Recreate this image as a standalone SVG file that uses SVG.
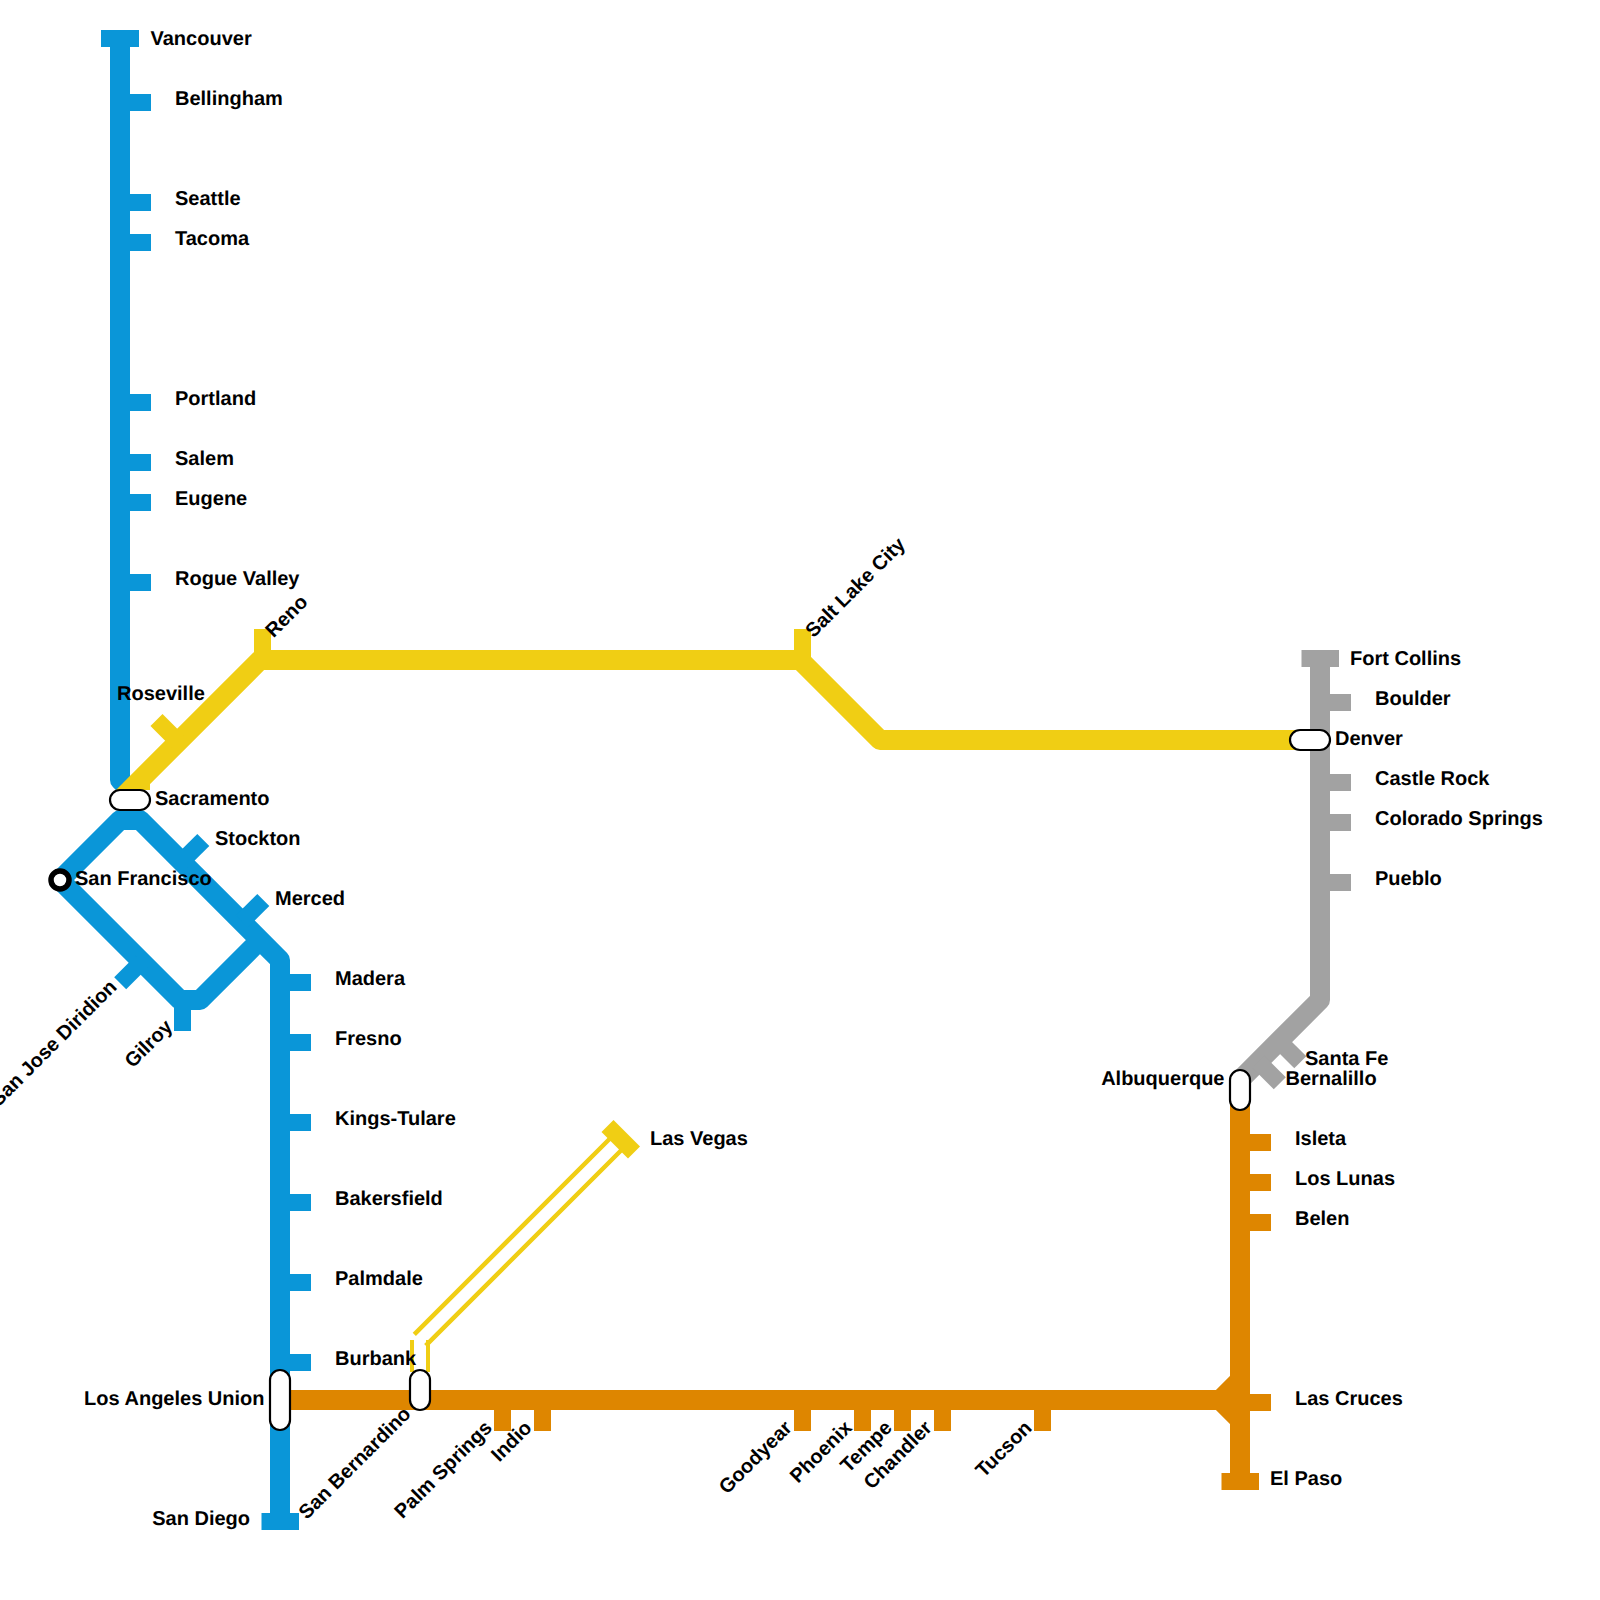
<svg xmlns="http://www.w3.org/2000/svg" width="1600" height="1600" viewBox="0 0 1600 1600">
<style>
text{font-family:"Liberation Sans",Arial,sans-serif;font-weight:700;font-size:20px;fill:#000;text-rendering:geometricPrecision}
.e{text-anchor:end}
.l{fill:none;stroke-width:20;stroke-linejoin:round}
.t{fill:none;stroke-width:17}
.blue{stroke:#0a96d8}.yellow{stroke:#f0ce14}.orange{stroke:#de8600}.grey{stroke:#a2a2a2}
.thin{fill:none;stroke:#f0ce14;stroke-width:4}
.p{fill:#fff;stroke:#000;stroke-width:2.2}
</style>
<rect width="1600" height="1600" fill="#fff"/>
<g id="connectors">
<path class="l blue" d="M120 30V780L130 790"/>
<path class="l blue" d="M260 940L200 1000H180L60 880L120 820H140L280 960V1520"/>
<path class="l grey" d="M1320 650V1000L1240 1080"/>
<path class="l orange" d="M280 1400H1220L1240 1380M1220 1400L1240 1420M1240 1100V1490"/>
<path class="l yellow" d="M130 790L260 660H800L880 740H1310"/>
<path d="M116 790L123 783H150V790Z" fill="#f0ce14"/>
<path class="thin" d="M412 1340V1372M428 1340V1372"/>
<path class="thin" style="stroke-width:4.500" d="M414.300 1334.300L615 1133.500M425.700 1345.700L626.500 1145"/>
</g>
<g id="vancouver"><path class="t blue" d="M101 38.500H139"/><text x="150.500" y="45">Vancouver</text></g>
<g id="bellingham"><path class="t blue" d="M120 102.500H151"/><text x="175" y="105">Bellingham</text></g>
<g id="seattle"><path class="t blue" d="M120 202.500H151"/><text x="175" y="205">Seattle</text></g>
<g id="tacoma"><path class="t blue" d="M120 242.500H151"/><text x="175" y="245">Tacoma</text></g>
<g id="portland"><path class="t blue" d="M120 402.500H151"/><text x="175" y="405">Portland</text></g>
<g id="salem"><path class="t blue" d="M120 462.500H151"/><text x="175" y="465">Salem</text></g>
<g id="eugene"><path class="t blue" d="M120 502.500H151"/><text x="175" y="505">Eugene</text></g>
<g id="rogue-valley"><path class="t blue" d="M120 582.500H151"/><text x="175" y="585">Rogue Valley</text></g>
<g id="roseville"><path class="t yellow" d="M178.200 741.800L156.500 720"/><text x="117" y="700">Roseville</text></g>
<g id="reno"><path class="t yellow" d="M262.500 660V629"/><text transform="translate(273.500 638.500) rotate(-45)">Reno</text></g>
<g id="salt-lake-city"><path class="t yellow" d="M802.500 660V629"/><text transform="translate(813.500 638.500) rotate(-45)">Salt Lake City</text></g>
<g id="sacramento"><rect class="p" x="110" y="790" width="40" height="20" rx="10"/><text x="155" y="805">Sacramento</text></g>
<g id="san-francisco"><circle cx="60" cy="880" r="9" fill="#fff" stroke="#000" stroke-width="5.500"/><text x="75" y="885">San Francisco</text></g>
<g id="stockton"><path class="t blue" d="M181.600 861.600L203.300 840"/><text x="215" y="845">Stockton</text></g>
<g id="merced"><path class="t blue" d="M241.600 921.600L263.300 900"/><text x="275" y="905">Merced</text></g>
<g id="san-jose-diridion"><path class="t blue" d="M141.700 961.800L120.200 983.300"/><text class="e" transform="translate(118 988) rotate(-45)">San Jose Diridion</text></g>
<g id="gilroy"><path class="t blue" d="M182.500 1000V1031"/><text class="e" transform="translate(173.500 1028) rotate(-45)">Gilroy</text></g>
<g id="madera"><path class="t blue" d="M280 982.500H311"/><text x="335" y="985">Madera</text></g>
<g id="fresno"><path class="t blue" d="M280 1042.500H311"/><text x="335" y="1045">Fresno</text></g>
<g id="kings-tulare"><path class="t blue" d="M280 1122.500H311"/><text x="335" y="1125">Kings-Tulare</text></g>
<g id="bakersfield"><path class="t blue" d="M280 1202.500H311"/><text x="335" y="1205">Bakersfield</text></g>
<g id="palmdale"><path class="t blue" d="M280 1282.500H311"/><text x="335" y="1285">Palmdale</text></g>
<g id="burbank"><path class="t blue" d="M280 1362.500H311"/><text x="335" y="1365">Burbank</text></g>
<g id="los-angeles-union"><rect class="p" x="270" y="1370" width="20" height="60" rx="10"/><text class="e" x="264.500" y="1405">Los Angeles Union</text></g>
<g id="san-diego"><path class="t blue" d="M261.500 1521.500H299"/><text class="e" x="250" y="1525">San Diego</text></g>
<g id="san-bernardino"><rect class="p" x="410" y="1370" width="20" height="40" rx="10"/><text class="e" transform="translate(412 1415) rotate(-45)">San Bernardino</text></g>
<g id="las-vegas"><path class="t yellow" d="M607.500 1126L634 1152.500"/><text x="650" y="1145">Las Vegas</text></g>
<g id="palm-springs"><path class="t orange" d="M502.500 1400V1431"/><text class="e" transform="translate(493 1429) rotate(-45)">Palm Springs</text></g>
<g id="indio"><path class="t orange" d="M542.500 1400V1431"/><text class="e" transform="translate(533 1429) rotate(-45)">Indio</text></g>
<g id="goodyear"><path class="t orange" d="M802.500 1400V1431"/><text class="e" transform="translate(793 1429) rotate(-45)">Goodyear</text></g>
<g id="phoenix"><path class="t orange" d="M862.500 1400V1431"/><text class="e" transform="translate(853 1429) rotate(-45)">Phoenix</text></g>
<g id="tempe"><path class="t orange" d="M902.500 1400V1431"/><text class="e" transform="translate(893 1429) rotate(-45)">Tempe</text></g>
<g id="chandler"><path class="t orange" d="M942.500 1400V1431"/><text class="e" transform="translate(933 1429) rotate(-45)">Chandler</text></g>
<g id="tucson"><path class="t orange" d="M1042.500 1400V1431"/><text class="e" transform="translate(1033 1429) rotate(-45)">Tucson</text></g>
<g id="las-cruces"><path class="t orange" d="M1240 1402.500H1271"/><text x="1295" y="1405">Las Cruces</text></g>
<g id="el-paso"><path class="t orange" d="M1221.500 1481.500H1259"/><text x="1270" y="1485">El Paso</text></g>
<g id="belen"><path class="t orange" d="M1240 1222.500H1271"/><text x="1295" y="1225">Belen</text></g>
<g id="los-lunas"><path class="t orange" d="M1240 1182.500H1271"/><text x="1295" y="1185">Los Lunas</text></g>
<g id="isleta"><path class="t orange" d="M1240 1142.500H1271"/><text x="1295" y="1145">Isleta</text></g>
<g id="albuquerque"><rect class="p" x="1230" y="1070" width="20" height="40" rx="10"/><text class="e" x="1224.500" y="1085">Albuquerque</text></g>
<g id="bernalillo"><path class="t grey" d="M1258.300 1061.700L1279.800 1083.200"/><text x="1285.500" y="1085">Bernalillo</text></g>
<g id="santa-fe"><path class="t grey" d="M1279 1041L1300.300 1062.300"/><text x="1305" y="1065">Santa Fe</text></g>
<g id="pueblo"><path class="t grey" d="M1320 882.500H1351"/><text x="1375" y="885">Pueblo</text></g>
<g id="colorado-springs"><path class="t grey" d="M1320 822.500H1351"/><text x="1375" y="825">Colorado Springs</text></g>
<g id="castle-rock"><path class="t grey" d="M1320 782.500H1351"/><text x="1375" y="785">Castle Rock</text></g>
<g id="denver"><rect class="p" x="1290" y="730" width="40" height="20" rx="10"/><text x="1335" y="745">Denver</text></g>
<g id="boulder"><path class="t grey" d="M1320 702.500H1351"/><text x="1375" y="705">Boulder</text></g>
<g id="fort-collins"><path class="t grey" d="M1301.500 658.500H1339"/><text x="1350" y="665">Fort Collins</text></g>
</svg>
